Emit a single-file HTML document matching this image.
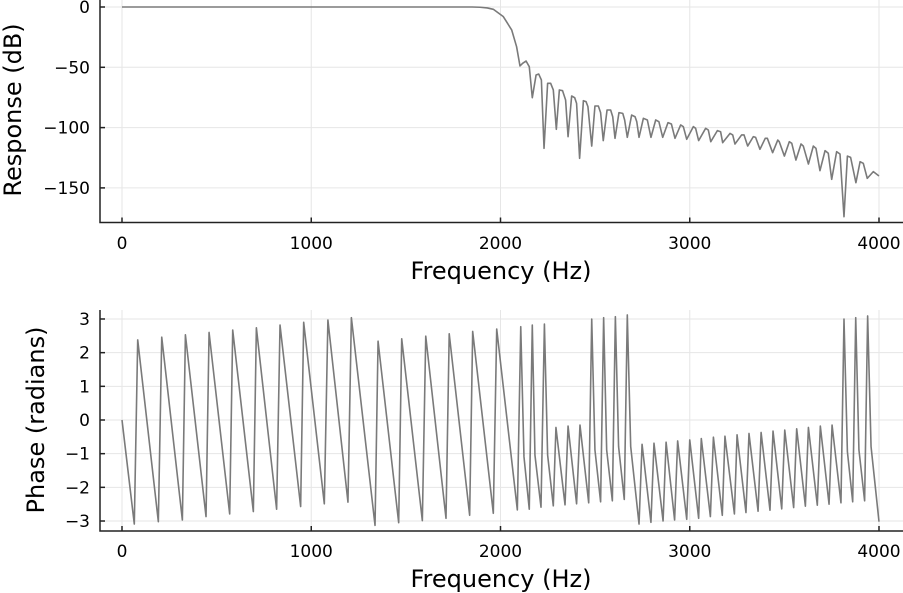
<!DOCTYPE html>
<html><head><meta charset="utf-8">
<style>
html,body{margin:0;padding:0;background:#fff;}
svg{display:block;font-family:"DejaVu Sans","Liberation Sans",sans-serif;}
</style></head>
<body>
<svg id="chart" width="903" height="593" viewBox="0 0 903 593" xmlns="http://www.w3.org/2000/svg">
<text x="0" y="0" transform="translate(21,110) rotate(-90)" text-anchor="middle" font-size="24">Response (dB)</text>
<text x="501" y="279" text-anchor="middle" font-size="24">Frequency (Hz)</text>
<text x="0" y="0" transform="translate(44,420) rotate(-90)" text-anchor="middle" font-size="24">Phase (radians)</text>
<text x="501" y="587" text-anchor="middle" font-size="24">Frequency (Hz)</text>
<g id="top"></g>
<g id="bot"></g>
</svg>
<script>
const xTicks = [0, 1000, 2000, 3000, 4000];
const xTickLabels = ["0", "1000", "2000", "3000", "4000"];
const magTicks = [0, -50, -100, -150];
const magTickLabels = ["0", "\u221250", "\u2212100", "\u2212150"];
const phaseTicks = [3, 2, 1, 0, -1, -2, -3];
const phaseTickLabels = ["3", "2", "1", "0", "\u22121", "\u22122", "\u22123"];
const magFreq = [0,1000,1850,1892,1930,1962,2015,2059,2085,2103,2117,2135,2152,2168,2188,2202,2216,2230,2249,2265,2279,2295,2311,2328,2344,2357,2376,2392,2402,2418,2438,2452,2462,2482,2499,2517,2529,2543,2563,2582,2593,2605,2626,2646,2656,2670,2693,2711,2720,2732,2755,2776,2795,2820,2837,2857,2885,2903,2922,2952,2966,2984,3019,3031,3047,3084,3098,3111,3146,3163,3174,3213,3227,3239,3274,3287,3306,3336,3348,3371,3399,3410,3438,3465,3473,3500,3526,3539,3561,3588,3600,3627,3653,3667,3688,3715,3732,3750,3776,3794,3815,3833,3850,3878,3900,3917,3938,3970,4000];
const magDb = [0,0,0,-0.2,-0.8,-1.9,-8,-19,-32.9,-48.9,-46.7,-44.8,-49.5,-75.2,-56.4,-55.6,-60.5,-117.2,-63.3,-63.3,-68.8,-101.4,-68.8,-69.4,-77.1,-107.5,-73.8,-75.2,-79.9,-125.5,-77.7,-78.5,-82.6,-115.3,-82.1,-82.1,-87.6,-110.8,-85.4,-85.4,-91,-108.9,-87.6,-88.2,-93.7,-108.1,-89.6,-91,-95.1,-108.1,-92.3,-93.7,-108.1,-93.7,-95.1,-108.1,-95.9,-97,-108.9,-97.8,-99.2,-109.7,-99.2,-100.6,-110.8,-100.6,-102,-111.7,-102.5,-103.4,-112.5,-104.8,-106.1,-113.6,-106.1,-106.1,-115.3,-107.5,-108.1,-118,-108.9,-108.9,-120.8,-110.3,-111.7,-123.6,-111.7,-113,-126.9,-113.6,-115.3,-130.2,-115.3,-117.2,-135.7,-119.1,-121.3,-142.9,-120,-121.9,-173.9,-123.6,-124.7,-145.7,-128.3,-129.6,-142.1,-136.5,-140.1];
const phaseFreq = [0,65,83,192,210,319,335,444,460,569,585,694,710,817,835,944,960,1069,1088,1194,1212,1337,1353,1462,1478,1587,1605,1712,1729,1837,1853,1962,1980,2089,2107,2124,2152,2168,2182,2214,2232,2249,2279,2293,2341,2357,2402,2420,2466,2482,2499,2529,2545,2561,2591,2607,2624,2654,2670,2688,2732,2748,2795,2811,2859,2875,2920,2936,2984,3000,3047,3061,3109,3125,3172,3186,3236,3250,3297,3313,3361,3377,3424,3440,3486,3502,3549,3565,3611,3627,3674,3690,3736,3752,3799,3815,3833,3861,3877,3894,3924,3940,3958,4000];
const phaseRad = [0,-3.09,2.38,-3.02,2.46,-2.97,2.53,-2.87,2.60,-2.79,2.67,-2.72,2.74,-2.65,2.82,-2.57,2.90,-2.49,2.97,-2.44,3.04,-3.13,2.34,-3.05,2.41,-2.99,2.49,-2.92,2.56,-2.83,2.63,-2.77,2.70,-2.67,2.77,-1.09,-2.65,2.82,-1.04,-2.59,2.85,-1.04,-2.55,-0.22,-2.52,-0.18,-2.49,-0.15,-2.46,3.00,-0.89,-2.43,3.04,-0.89,-2.40,3.07,-0.79,-2.36,3.12,-0.79,-3.09,-0.72,-3.04,-0.69,-3.00,-0.66,-2.97,-0.62,-2.95,-0.59,-2.92,-0.55,-2.87,-0.51,-2.83,-0.48,-2.79,-0.44,-2.75,-0.40,-2.71,-0.37,-2.68,-0.33,-2.64,-0.30,-2.60,-0.26,-2.56,-0.22,-2.53,-0.18,-2.50,-0.15,-2.46,3.00,-0.94,-2.43,3.04,-0.89,-2.40,3.09,-0.79,-3.02];

const NS = "http://www.w3.org/2000/svg";
function mk(parent, tag, attrs) {
  const e = document.createElementNS(NS, tag);
  for (const k in attrs) e.setAttribute(k, attrs[k]);
  parent.appendChild(e);
  return e;
}
const xScale = f => 122 + f * 0.18925;
const L = 100, R = 903;

function drawPanel(g, cfg) {
  const {top, bottom, yScale, yTicks, yLabels, xs, ys, tickLabelY, prefix} = cfg;
  xTicks.forEach((t) => {
    const gl = mk(g, "line", {x1: xScale(t), x2: xScale(t), y1: top, y2: bottom, stroke: "#e6e6e6", "stroke-width": 1});
    
    
  });
  yTicks.forEach((t) => {
    const gl = mk(g, "line", {x1: L, x2: R, y1: yScale(t), y2: yScale(t), stroke: "#e6e6e6", "stroke-width": 1});
    
    
  });
  const sp = mk(g, "path", {d: `M${L},${top} L${L},${bottom} L${R},${bottom}`, fill: "none", stroke: "#222", "stroke-width": 1.5});
  
  
  xTicks.forEach((t, i) => {
    const tk = mk(g, "line", {x1: xScale(t), x2: xScale(t), y1: bottom, y2: bottom - 5, stroke: "#222", "stroke-width": 1.5});
    
    
    const tl = mk(g, "text", {x: xScale(t), y: tickLabelY, "text-anchor": "middle", "font-size": 17, fill: "#000"});
    tl.textContent = xTickLabels[i];
    
    
  });
  yTicks.forEach((t, i) => {
    const tk = mk(g, "line", {x1: L, x2: L + 5, y1: yScale(t), y2: yScale(t), stroke: "#222", "stroke-width": 1.5});
    
    
    const tl = mk(g, "text", {x: L - 10, y: yScale(t) + 6, "text-anchor": "end", "font-size": 17, fill: "#000"});
    tl.textContent = yLabels[i];
    
    
  });
  let d = "";
  xs.forEach((f, i) => { d += (i ? " L" : "M") + xScale(f).toFixed(2) + "," + yScale(ys[i]).toFixed(2); });
  const ln = mk(g, "path", {d, fill: "none", stroke: "#7a7a7a", "stroke-width": 1.6, "stroke-linejoin": "round"});
  
  
}

drawPanel(document.getElementById("top"), {
  top: 0, bottom: 222.5, yScale: v => 7 - v * 1.206,
  yTicks: magTicks, yLabels: magTickLabels, xs: magFreq, ys: magDb,
  tickLabelY: 249, prefix: "magnitude"
});
drawPanel(document.getElementById("bot"), {
  top: 310, bottom: 531, yScale: v => 420 - v * 33.67,
  yTicks: phaseTicks, yLabels: phaseTickLabels, xs: phaseFreq, ys: phaseRad,
  tickLabelY: 557, prefix: "phase"
});
</script>
</body></html>
